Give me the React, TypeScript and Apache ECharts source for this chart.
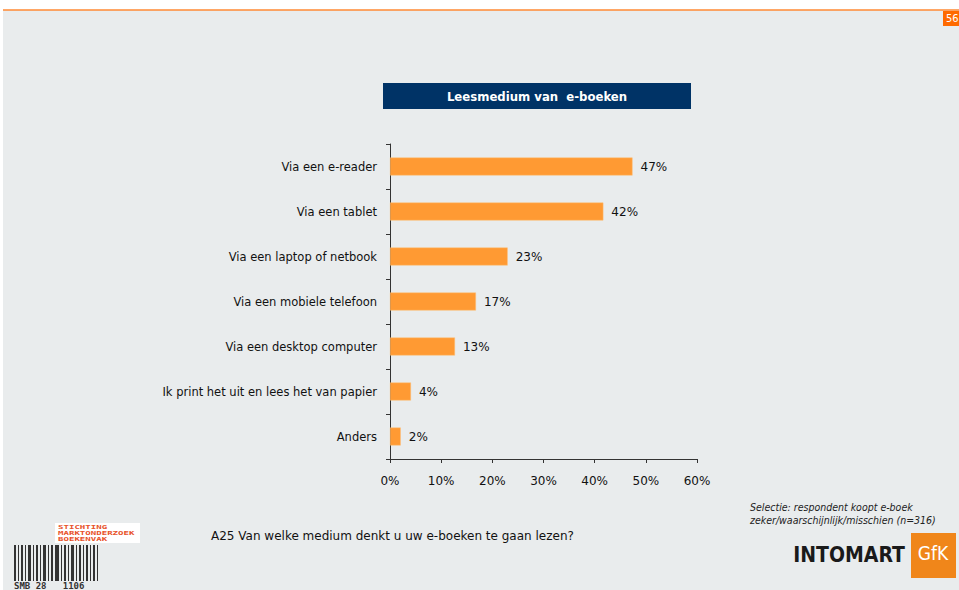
import React, { useEffect, useRef } from "react";
import * as echarts from "echarts";

const categories = [
  "Via een e-reader",
  "Via een tablet",
  "Via een laptop of netbook",
  "Via een mobiele telefoon",
  "Via een desktop computer",
  "Ik print het uit en lees het van papier",
  "Anders",
];
const values = [47.4, 41.7, 23, 16.8, 12.7, 4.1, 2.1];
const xTicks = [0, 10, 20, 30, 40, 50, 60];

const title = "Leesmedium van  e-boeken";
const question = "A25 Van welke medium denkt u uw e-boeken te gaan lezen?";
const selectie1 = "Selectie: respondent koopt e-boek";
const selectie2 = "zeker/waarschijnlijk/misschien (n=316)";
const pageNo = "56";
const logoLines = ["STICHTING", "MARKTONDERZOEK", "BOEKENVAK"];

const FONT_C = "'DejaVu Sans Condensed', sans-serif";
const FONT = "'DejaVu Sans', sans-serif";
const MONO = "'DejaVu Sans Mono', monospace";

const barcodeBars = [
  [14, 2], [18, 1], [21, 2], [25, 1], [28, 3], [33, 1], [36, 2], [40, 1], [43, 3],
  [48, 1], [51, 2], [55, 4], [61, 1], [64, 2], [68, 1], [71, 3], [76, 1], [79, 2],
  [83, 1], [86, 2], [90, 1], [93, 2], [97, 1],
];

export default function App() {
  const ref = useRef<HTMLDivElement>(null);
  useEffect(() => {
    document.body.style.margin = "0";
    const chart = echarts.init(ref.current!, undefined, { renderer: "svg" });
    const graphics: any[] = [
      { type: "rect", shape: { x: 3, y: 10, width: 956, height: 580 }, style: { fill: "#e9eced" }, z: -10 },
      { type: "line", shape: { x1: 3, y1: 10, x2: 959, y2: 10 }, style: { stroke: "#ff8a33", lineWidth: 1.5 } },
      { type: "rect", shape: { x: 943, y: 11, width: 16, height: 15 }, style: { fill: "#ff6a00" } },
      { type: "text", x: 946, y: 18.5, style: { text: pageNo, fill: "#fff", font: `11px ${FONT_C}`, textVerticalAlign: "middle" } },
      { type: "rect", shape: { x: 383, y: 83, width: 308, height: 26 }, style: { fill: "#003366" } },
      { type: "text", x: 537, y: 96, style: { text: title, fill: "#fff", font: `bold 13px ${FONT_C}`, textAlign: "center", textVerticalAlign: "middle" } },
      { type: "text", x: 211, y: 536, style: { text: question, fill: "#111", font: `12px ${FONT}`, textVerticalAlign: "middle" } },
      { type: "text", x: 750, y: 507, style: { text: selectie1, fill: "#222", font: `italic 10.5px ${FONT_C}`, textVerticalAlign: "middle" } },
      { type: "text", x: 750, y: 520, style: { text: selectie2, fill: "#222", font: `italic 10.5px ${FONT_C}`, textVerticalAlign: "middle" } },
      { type: "text", x: 905, y: 555, style: { text: "INTOMART", fill: "#1a1a1a", font: `bold 21px ${FONT_C}`, textAlign: "right", textVerticalAlign: "middle" } },
      { type: "rect", shape: { x: 911, y: 533, width: 45, height: 45 }, style: { fill: "#f0861a" } },
      { type: "text", x: 933, y: 553, style: { text: "GfK", fill: "#fff", font: `19px ${FONT_C}`, textAlign: "center", textVerticalAlign: "middle" } },
      { type: "rect", shape: { x: 55, y: 523, width: 85, height: 20 }, style: { fill: "#ffffff" } },
      { type: "text", x: 14, y: 586, style: { text: "SMB 28   1106", fill: "#333", font: `bold 9px ${MONO}`, textVerticalAlign: "middle" } },
    ];
    logoLines.forEach((t, i) => {
      graphics.push({
        type: "text",
        x: 58,
        y: 524 + i * 6,
        scaleX: 1.65,
        style: { text: t, fill: "#e8522a", font: `bold 5.5px ${MONO}`, textVerticalAlign: "top" },
      });
    });
    barcodeBars.forEach(([x, w]) => {
      graphics.push({ type: "rect", shape: { x, y: 545, width: w, height: 36 }, style: { fill: "#333" } });
    });
    chart.setOption({
      animation: false,
      backgroundColor: "#ffffff",
      grid: { left: 390, top: 144, width: 307, height: 315, containLabel: false },
      xAxis: {
        type: "value",
        min: xTicks[0],
        max: xTicks[xTicks.length - 1],
        interval: 10,
        axisLine: { show: true, lineStyle: { color: "#333", width: 1 } },
        axisTick: { show: true, length: 4, lineStyle: { color: "#333" } },
        splitLine: { show: false },
        axisLabel: { formatter: "{value}%", color: "#111", fontSize: 12, fontFamily: FONT, margin: 16 },
      },
      yAxis: {
        type: "category",
        inverse: true,
        data: categories,
        axisLine: { show: true, lineStyle: { color: "#333", width: 1 } },
        axisTick: { show: true, length: 4, lineStyle: { color: "#333" } },
        axisLabel: { color: "#111", fontSize: 11.5, fontFamily: FONT, margin: 13 },
      },
      series: [
        {
          type: "bar",
          data: values,
          barCategoryGap: "60%",
          itemStyle: { color: "#ff9a33", borderColor: "#ffc07a", borderWidth: 0.5 },
          label: {
            show: true,
            position: "right",
            distance: 8,
            formatter: (p: any) => `${Math.round(p.value)}%`,
            color: "#111",
            fontSize: 12,
            fontFamily: FONT,
          },
        },
      ],
      graphic: { elements: graphics },
    });
    return () => chart.dispose();
  }, []);
  return <div ref={ref} style={{ position: "fixed", left: 0, top: 0, width: 959, height: 590 }} />;
}
